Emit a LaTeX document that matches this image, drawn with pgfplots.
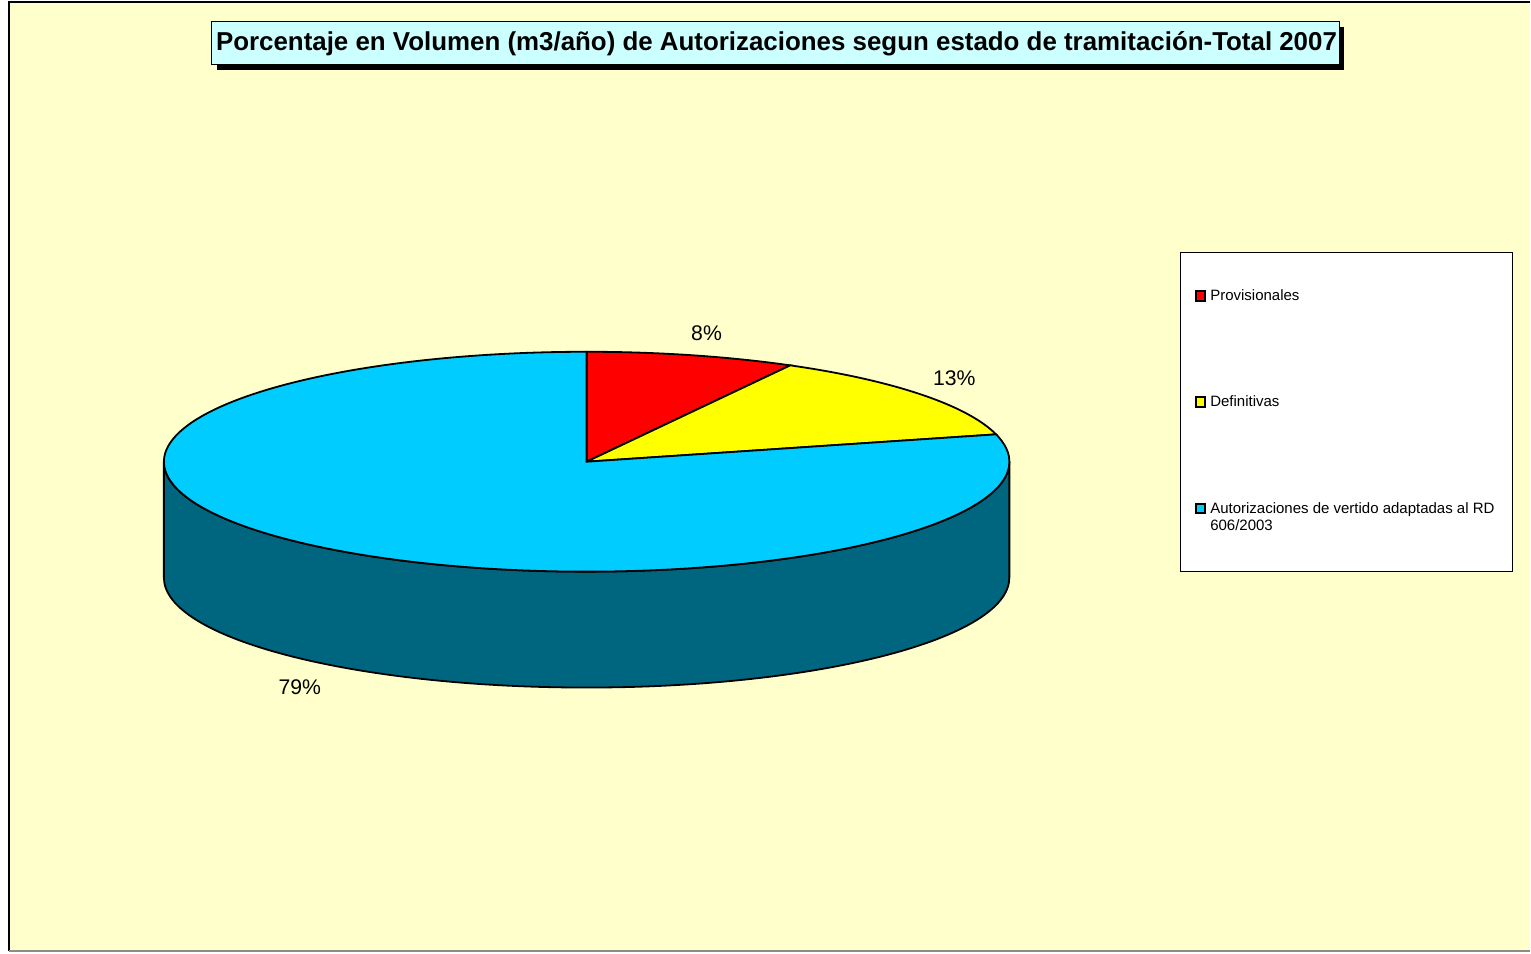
\documentclass[border=0pt]{standalone}
\usepackage{fontspec}
\setmainfont{Liberation Sans}
\usepackage{pgfplots}
\pgfplotsset{compat=1.18}
\definecolor{bg}{HTML}{FFFFCC}
\definecolor{titlebg}{HTML}{CCFFFF}
\definecolor{slA}{HTML}{FF0000}
\definecolor{slB}{HTML}{FFFF00}
\definecolor{slC}{HTML}{00CCFF}
\definecolor{slCside}{HTML}{006680}
\begin{document}
\begin{tikzpicture}
% pie data (percent): Provisionales, Definitivas, Autorizaciones
\def\pA{8}\def\pB{13}\def\pC{79}
\pgfmathsetmacro{\aA}{90}
\pgfmathsetmacro{\aB}{\aA-3.6*\pA}
\pgfmathsetmacro{\aC}{\aB-3.6*\pB}
\pgfmathsetmacro{\aD}{\aC-3.6*\pC}
\begin{axis}[
  scale only axis, width=765.5pt, height=477pt,
  xmin=0, xmax=1531, ymin=0, ymax=954,
  hide axis, clip=false,
  legend image code/.code={\draw[#1, line width=1pt] (0pt,-0.1pt) rectangle (4.8pt,4.8pt);},
  legend style={at={(axis cs:1181,702)}, anchor=north west, draw=black, line width=0.5pt,
    fill=white, font=\fontsize{7.5}{8.75}\selectfont, inner xsep=7pt, inner ysep=16pt,
    row sep=40.45pt, cells={anchor=base west}, nodes={text depth=}},
]
% page
\fill[white] (axis cs:0,0) rectangle (axis cs:1531,954);
% background frame
\fill[bg] (axis cs:9,2) rectangle (axis cs:1531,952);
\draw[black, line width=1pt] (axis cs:9,2) -- (axis cs:9,952) -- (axis cs:1531,952);
\draw[black!45, line width=1pt] (axis cs:9,2) -- (axis cs:1531,2);
% title
\fill[black] (axis cs:217,884) rectangle (axis cs:1345,927);
\filldraw[fill=titlebg, draw=black, line width=0.5pt] (axis cs:212,889) rectangle (axis cs:1340,932);
\node[font=\fontsize{12.95}{15}\selectfont\bfseries] at (axis cs:777,910.5)
  {Porcentaje en Volumen (m3/año) de Autorizaciones segun estado de tramitación-Total 2007};
% pie side wall
\filldraw[fill=slCside, draw=black, line width=0.9pt] (axis cs:164,492) -- (axis cs:164,376)
  arc[start angle=180, end angle=360, x radius=211.5pt, y radius=55pt] -- (axis cs:1010,492)
  arc[start angle=360, end angle=180, x radius=211.5pt, y radius=55pt] -- cycle;
% pie top
\filldraw[fill=slA, draw=black, line width=0.9pt] (axis cs:587,492) -- ++(\aA:211.5pt and 55pt)
  arc[start angle=\aA, end angle=\aB, x radius=211.5pt, y radius=55pt] -- cycle;
\filldraw[fill=slB, draw=black, line width=0.9pt] (axis cs:587,492) -- ++(\aB:211.5pt and 55pt)
  arc[start angle=\aB, end angle=\aC, x radius=211.5pt, y radius=55pt] -- cycle;
\filldraw[fill=slC, draw=black, line width=0.9pt] (axis cs:587,492) -- ++(\aC:211.5pt and 55pt)
  arc[start angle=\aC, end angle=\aD, x radius=211.5pt, y radius=55pt] -- cycle;
% data labels
\addplot[forget plot, draw=none, mark=none, nodes near coords, point meta=explicit symbolic,
  every node near coord/.append style={font=\fontsize{10.6}{12}\selectfont, anchor=center, inner sep=0pt}]
  coordinates {(707,621) [8\%] (955,576) [13\%] (300,266) [79\%]};
% legend
\addlegendimage{fill=slA, draw=black}
\addlegendentry{\strut Provisionales}
\addlegendimage{fill=slB, draw=black}
\addlegendentry{\strut Definitivas}
\addlegendimage{fill=slC, draw=black}
\addlegendentry{\begin{tabular}[t]{@{}l@{}}Autorizaciones de vertido adaptadas al RD\\606/2003\end{tabular}}
\end{axis}
\end{tikzpicture}
\end{document}
